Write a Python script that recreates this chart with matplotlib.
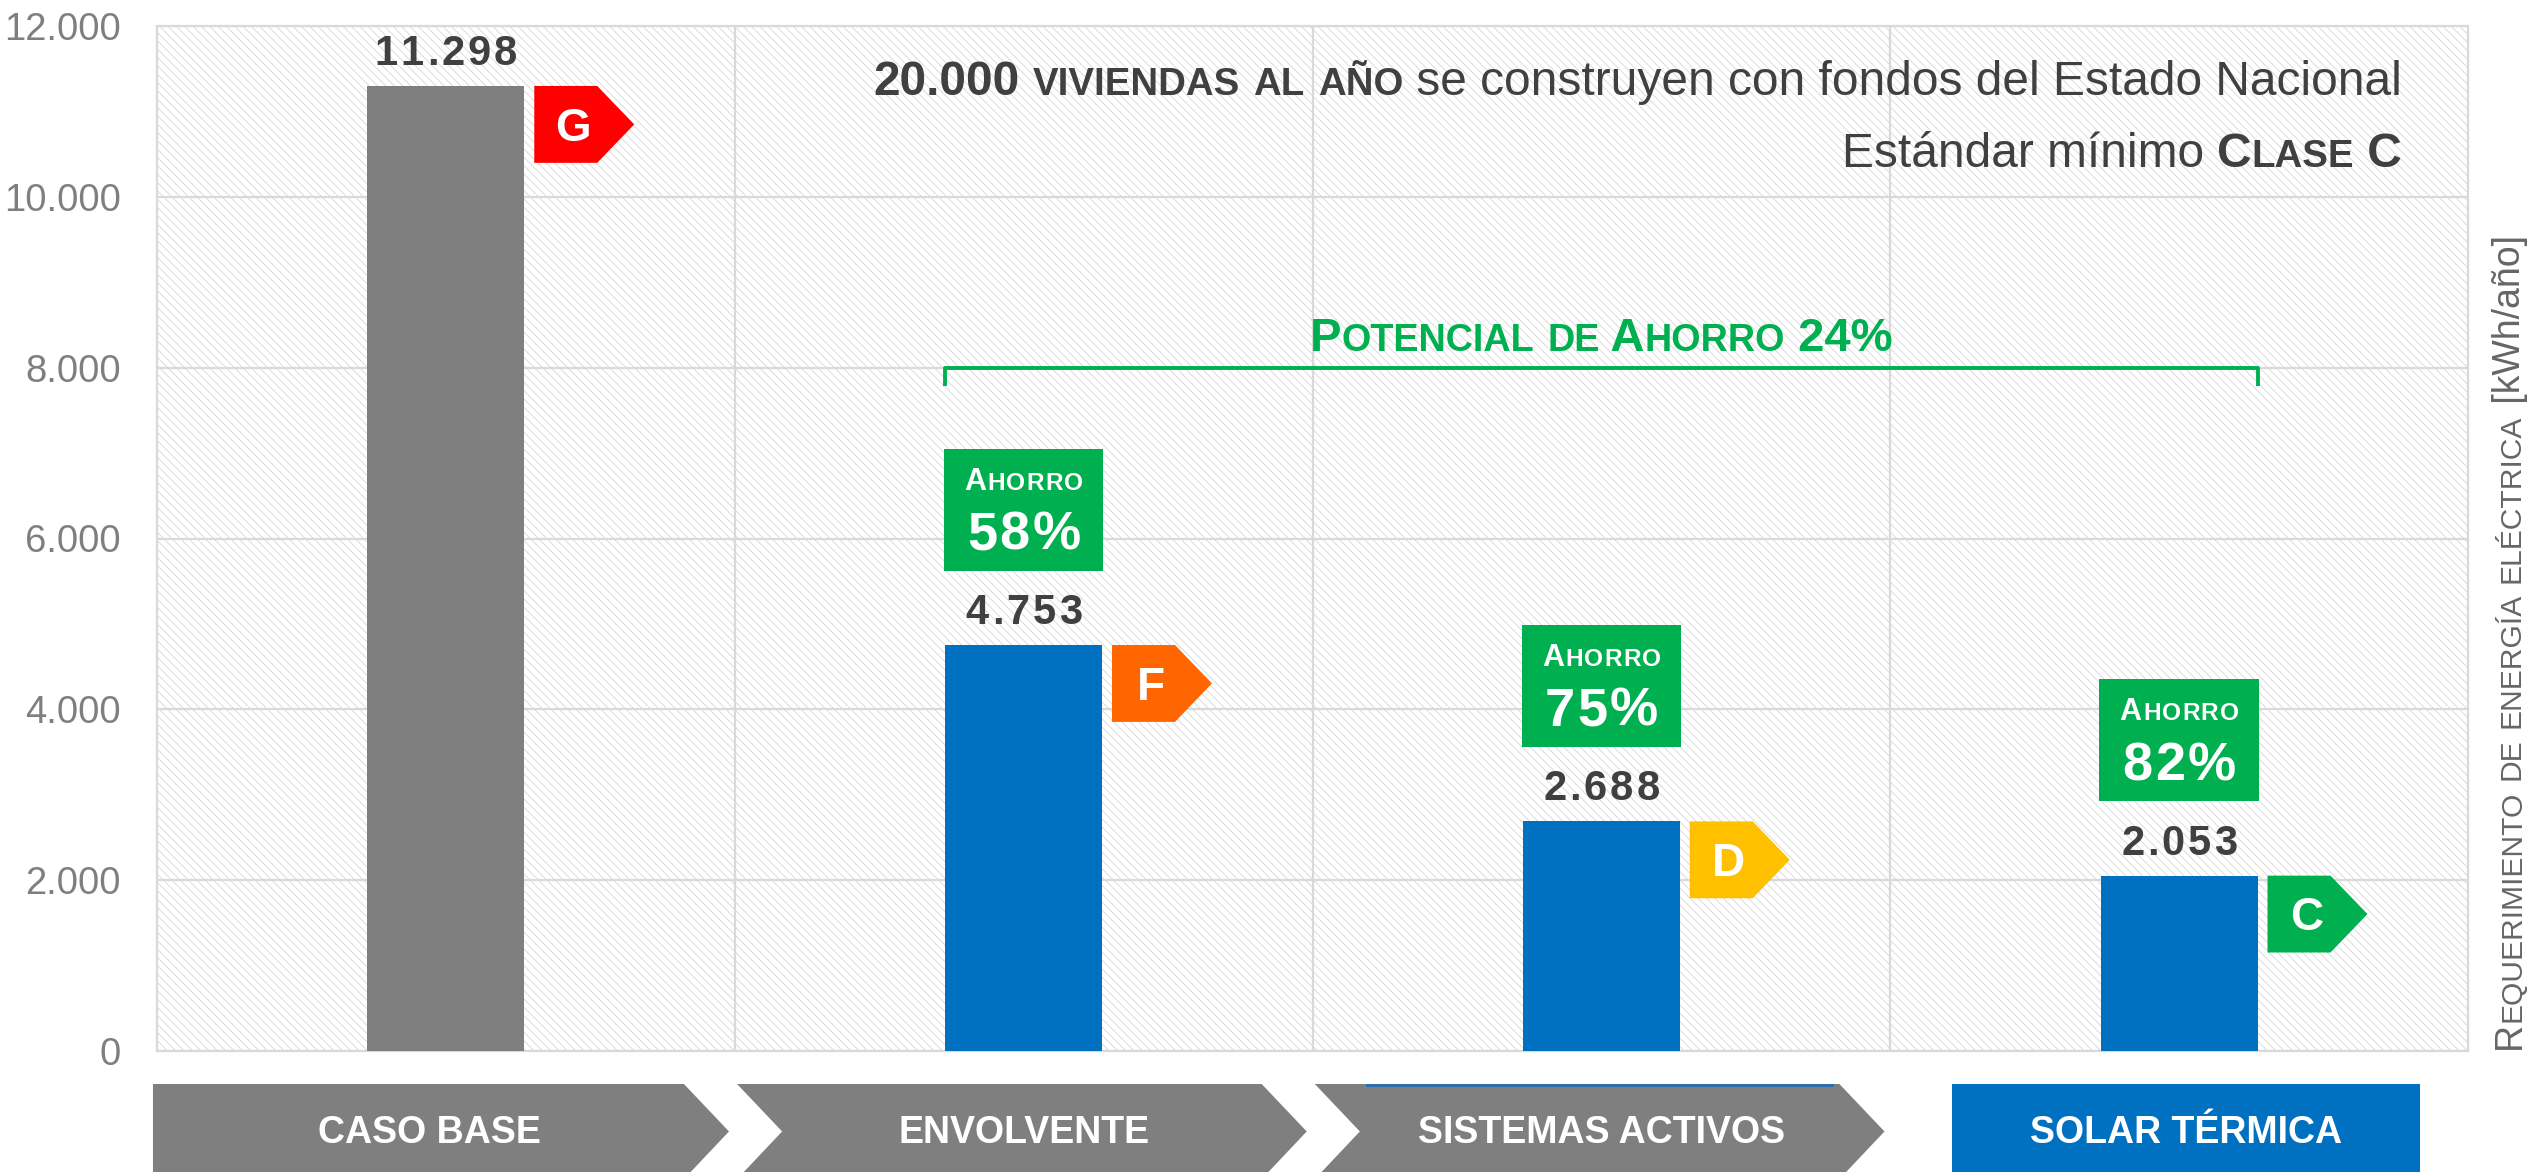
import matplotlib
matplotlib.use('Agg')
import matplotlib.pyplot as plt
from matplotlib.patches import Rectangle, Polygon
from matplotlib.font_manager import FontProperties
from matplotlib.transforms import offset_copy

FAM = ['Liberation Sans', 'DejaVu Sans']
plt.rcParams['font.family'] = FAM
plt.rcParams['hatch.linewidth'] = 0.6

# ---------------- data ----------------
categories = ['CASO BASE', 'ENVOLVENTE', 'SISTEMAS ACTIVOS', 'SOLAR TÉRMICA']
values = [11298, 4753, 2688, 2053]
energy_class = ['G', 'F', 'D', 'C']
savings = [None, '58%', '75%', '82%']
yticks = [0, 2000, 4000, 6000, 8000, 10000, 12000]
potential_text = 'Potencial de Ahorro 24%'

bar_colors = ['#7F7F7F', '#0070C0', '#0070C0', '#0070C0']
class_colors = {'G': '#FF0000', 'F': '#FF6600', 'D': '#FFC000', 'C': '#00B050'}
GREEN = '#00B050'
DARK = '#404040'
GRID = '#D9D9D9'

W, H, DPI = 2539, 1172, 100
fig = plt.figure(figsize=(W / DPI, H / DPI), dpi=DPI)
ax = fig.add_axes([157 / W, 121 / H, (2468 - 157) / W, (1051 - 26) / H])
renderer = fig.canvas.get_renderer()


def measure(s, size, weight):
    fp = FontProperties(family=FAM, size=size, weight=weight)
    w1 = renderer.get_text_width_height_descent('|' + s + '|', fp, ismath=False)[0]
    w0 = renderer.get_text_width_height_descent('||', fp, ismath=False)[0]
    return w1 - w0


def smallcaps(s, size, weight='normal', ratio=0.8):
    runs = []
    for ch in s:
        run = (ch.upper(), size * ratio, weight) if ch.islower() else (ch, size, weight)
        if runs and runs[-1][1] == run[1] and runs[-1][2] == run[2]:
            runs[-1] = (runs[-1][0] + run[0], run[1], run[2])
        else:
            runs.append(run)
    return runs


def explode(runs):
    return [(c, sz, wt) for s, sz, wt in runs for c in s]


def rich(target, x, y, runs, transform, ha='left', rotation=0, color='k', zorder=6, spacing=0.0):
    widths = [measure(s, sz, wt) for s, sz, wt in runs]
    total = sum(widths) + spacing * (len(runs) - 1)
    off = {'left': 0, 'center': -total / 2, 'right': -total}[ha]
    for (s, sz, wt), w in zip(runs, widths):
        if rotation == 90:
            tr = offset_copy(transform, fig=fig, x=0, y=off, units='dots')
        else:
            tr = offset_copy(transform, fig=fig, x=off, y=0, units='dots')
        target.text(x, y, s, transform=tr, ha='left', va='baseline', rotation=rotation,
                    rotation_mode='anchor', fontsize=sz, fontweight=wt, color=color,
                    zorder=zorder, clip_on=False)
        off += w + spacing


# ---------------- axes styling ----------------
ax.set_xlim(-0.5, 3.5)
ax.set_ylim(0, 12000)
ax.set_axisbelow(True)
ax.add_patch(Rectangle((0, 0), 1, 1, transform=ax.transAxes, facecolor='white',
                       edgecolor='#D6D6D6', linewidth=0, hatch='\\' * 4, zorder=0))
ax.set_yticks(yticks)
ax.set_yticklabels([f'{v:,}'.replace(',', '.') for v in yticks])
ax.set_xticks([])
ax.set_xticks([0.5, 1.5, 2.5], minor=True)
ax.tick_params(axis='y', length=0, pad=26, labelsize=27.5, labelcolor='#7F7F7F')
ax.tick_params(axis='x', which='both', length=0, labelbottom=False)
ax.yaxis.grid(True, color=GRID, lw=1.6)
ax.xaxis.grid(True, which='minor', color=GRID, lw=1.6)
for sp in ax.spines.values():
    sp.set_color(GRID)
    sp.set_linewidth(1.6)

# ---------------- bars ----------------
x = list(range(len(categories)))
bw = 0.272
ax.bar(x, values, width=bw, color=bar_colors, zorder=3)

tag_h = 900
for i, v in enumerate(values):
    # value label (slightly letter-spaced)
    lab = f'{v:,}'.replace(',', '.')
    rich(ax, i, v, explode([(lab, 30, 'bold')]),
         offset_copy(ax.transData, fig=fig, x=0, y=21, units='dots'),
         ha='center', color=DARK, spacing=3.0)
    # energy class tag
    xs = [i + 0.153, i + 0.262, i + 0.326, i + 0.262, i + 0.153]
    ys = [v, v, v - tag_h / 2, v - tag_h, v - tag_h]
    ax.add_patch(Polygon(list(zip(xs, ys)), closed=True, facecolor=class_colors[energy_class[i]],
                         edgecolor='none', zorder=4))
    ax.text(i + 0.22, v - tag_h / 2 - 192, energy_class[i], ha='center', va='baseline',
            fontsize=33, fontweight='bold', color='white', zorder=6)
    # savings box
    if savings[i] is not None:
        b0 = v + 870
        bh = 1430
        ax.add_patch(Rectangle((i - 0.138, b0), 0.276, bh, facecolor=GREEN, edgecolor='none', zorder=4))
        rich(ax, i, b0 + bh - 480, explode(smallcaps('Ahorro', 22, 'bold')), ax.transData,
             ha='center', color='white', spacing=1.2)
        rich(ax, i, b0 + bh - 1181, explode([(savings[i], 39, 'bold')]), ax.transData,
             ha='center', color='white', spacing=2.5)

# ---------------- potential bracket ----------------
bl, br = 1 - 0.136, 3 + 0.136
ax.plot([bl, bl, br, br], [7790, 8000, 8000, 7790], color=GREEN, lw=2.8, zorder=5,
        solid_joinstyle='round', solid_capstyle='butt')
rich(ax, (bl + br) / 2, 8200, smallcaps(potential_text, 34, 'bold'), ax.transData,
     ha='center', color=GREEN)

# ---------------- top-right note ----------------
fx = 2402 / W
runs1 = [('20.000', 34.5, 'bold'), (' ', 34.5, 'bold')] + smallcaps('viviendas al año', 34.5, 'bold') + \
        [(' se construyen con fondos del Estado Nacional', 34.5, 'normal')]
rich(fig, fx, 1 - 95 / H, runs1, fig.transFigure, ha='right', color=DARK)
runs2 = [('Estándar mínimo ', 34.5, 'normal')] + smallcaps('Clase C', 34.5, 'bold')
rich(fig, fx, 1 - 167 / H, runs2, fig.transFigure, ha='right', color=DARK)

# ---------------- right axis label ----------------
runs3 = smallcaps('Requerimiento de energía eléctrica', 27, 'normal') + [(' [kWh/año]', 27, 'normal')]
rich(fig, 2520 / W, 1 - 1049 / H, runs3, fig.transFigure, ha='left', rotation=90, color='#666666')

# ---------------- bottom chevrons ----------------
tr = ax.get_xaxis_transform()
top, bot, mid = -0.0322, -0.125, -0.0785
depth = 0.078
label_x = [-0.029, 1, 2, 3.012]
for i, lab in enumerate(categories):
    if i < 3:
        x0 = i - 0.5 + (0.004 if i > 0 else -0.007)
        xt = i + 0.49
        x1 = xt - depth
        pts = [(x0, top), (x1, top), (xt, mid), (x1, bot), (x0, bot)]
        if i > 0:
            pts.append((x0 + depth, mid))
        ax.add_patch(Polygon(pts, closed=True, transform=tr, facecolor='#7F7F7F',
                             edgecolor='none', clip_on=False, zorder=3))
    else:
        ax.add_patch(Rectangle((i - 0.393, bot), 0.81, top - bot, transform=tr,
                               facecolor='#0070C0', edgecolor='none', clip_on=False, zorder=3))
    ax.text(label_x[i], -0.0902, lab, transform=tr, ha='center', va='baseline', fontsize=27,
            fontweight='bold', color='white', clip_on=False, zorder=6)
# thin blue strip visible on top of third chevron
ax.add_patch(Rectangle((1.593, top - 0.003), 0.81, 0.003, transform=tr, facecolor='#2F6FA8',
                       edgecolor='none', clip_on=False, zorder=4))

fig.savefig('out.png', dpi=DPI)
